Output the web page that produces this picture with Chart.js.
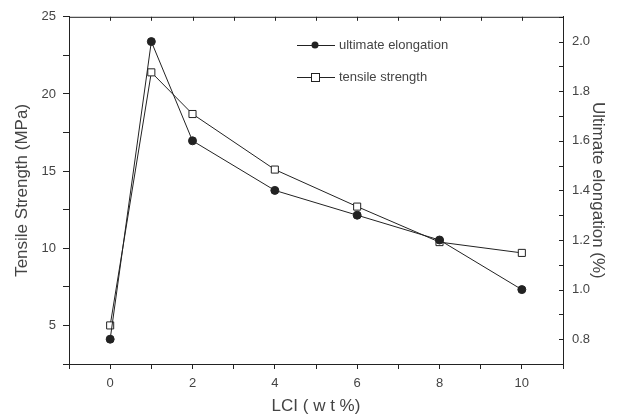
<!DOCTYPE html>
<html>
<head>
<meta charset="UTF-8">
<title>LCI</title>
<script src="https://cdn.jsdelivr.net/npm/chart.js@4.4.1/dist/chart.umd.min.js"></script>
<style>
  html, body { margin: 0; padding: 0; background: #fff; }
  #c { display: block; }
</style>
</head>
<body>
<canvas id="c" width="618" height="418"></canvas>
<script>
  // data
  const lciWt = [0, 1, 2, 4, 6, 8, 10];
  const tensileStrength = [5.0, 21.4, 18.7, 15.1, 12.7, 10.4, 9.7];   // MPa, left axis
  const ultimateElongation = [0.8, 2.0, 1.6, 1.4, 1.3, 1.2, 1.0];     // %, right axis

  const ink = "#222";
  const textCol = "#444";
  const fontFam = "'Liberation Sans', Arial, sans-serif";

  // frame top line + top ticks + legend inside plot
  const framePlugin = {
    id: "frame",
    afterDraw(chart) {
      const { ctx, chartArea: a, scales } = chart;
      ctx.save();
      ctx.strokeStyle = ink;
      ctx.lineWidth = 1;
      ctx.beginPath();
      ctx.moveTo(a.left, a.top + 0.5);
      ctx.lineTo(a.right, a.top + 0.5);
      scales.x.ticks.forEach(t => {
        const px = Math.round(scales.x.getPixelForValue(t.value)) + 0.5;
        ctx.moveTo(px, a.top);
        ctx.lineTo(px, a.top + 4);
      });
      scales.y2.ticks.forEach(t => {
        const py = Math.round(scales.y2.getPixelForValue(t.value)) + 0.5;
        ctx.moveTo(a.right, py);
        ctx.lineTo(a.right - 4, py);
      });
      ctx.stroke();

      // legend
      const items = [
        { ds: chart.data.datasets[0], y: 45 },
        { ds: chart.data.datasets[1], y: 77 }
      ];
      ctx.font = "13px " + fontFam;
      ctx.textBaseline = "middle";
      items.forEach(it => {
        ctx.strokeStyle = ink;
        ctx.beginPath();
        ctx.moveTo(297, it.y + 0.5);
        ctx.lineTo(335, it.y + 0.5);
        ctx.stroke();
        if (it.ds.pointStyle === "circle") {
          ctx.fillStyle = ink;
          ctx.beginPath();
          ctx.arc(315, it.y, 3.5, 0, Math.PI * 2);
          ctx.fill();
        } else {
          ctx.fillStyle = "#fff";
          ctx.fillRect(311, it.y - 4, 8, 8);
          ctx.strokeRect(311.5, it.y - 3.5, 8, 8);
        }
        ctx.fillStyle = textCol;
        ctx.fillText(it.ds.label, 339, it.y);
      });
      ctx.restore();
    }
  };

  new Chart(document.getElementById("c"), {
    type: "scatter",
    data: {
      datasets: [
        {
          label: "ultimate elongation",
          data: lciWt.map((x, i) => ({ x: x, y: ultimateElongation[i] })),
          yAxisID: "y2",
          showLine: true,
          borderColor: ink,
          borderWidth: 1,
          pointStyle: "circle",
          pointRadius: 4,
          pointBackgroundColor: ink,
          pointBorderColor: ink
        },
        {
          label: "tensile strength",
          data: lciWt.map((x, i) => ({ x: x, y: tensileStrength[i] })),
          yAxisID: "y",
          showLine: true,
          borderColor: ink,
          borderWidth: 1,
          pointStyle: "rect",
          pointRadius: 5,
          pointBackgroundColor: "#fff",
          pointBorderColor: ink,
          pointBorderWidth: 1
        }
      ]
    },
    options: {
      responsive: false,
      animation: false,
      layout: { padding: { top: 16, right: 0, left: 0, bottom: 0 } },
      plugins: {
        legend: { display: false },
        tooltip: { enabled: false }
      },
      scales: {
        x: {
          type: "linear",
          position: "bottom",
          min: -1,
          max: 11,
          afterFit: s => { s.height = 54; },
          border: { display: true, color: ink, width: 1 },
          grid: { drawOnChartArea: false, drawTicks: true, tickLength: 5, color: ink },
          ticks: {
            stepSize: 1,
            padding: 7,
            color: textCol,
            font: { family: fontFam, size: 13 },
            callback: v => (v >= 0 && v <= 10 && v % 2 === 0) ? String(v) : ""
          },
          title: {
            display: true,
            text: "LCI ( w t %)",
            color: textCol,
            font: { family: fontFam, size: 17 },
            padding: { top: 0, bottom: 1 }
          }
        },
        y: {
          position: "left",
          min: 2.5,
          max: 25,
          afterFit: s => { s.width = 69; },
          border: { display: true, color: ink, width: 1 },
          grid: { drawOnChartArea: false, drawTicks: true, tickLength: 6, color: ink },
          ticks: {
            stepSize: 2.5,
            padding: 7,
            color: textCol,
            font: { family: fontFam, size: 13 },
            callback: v => (v % 5 === 0) ? String(v) : ""
          },
          title: {
            display: true,
            text: "Tensile Strength (MPa)",
            color: textCol,
            font: { family: fontFam, size: 17 },
            padding: { top: 12, bottom: 0 }
          }
        },
        y2: {
          position: "right",
          min: 0.7,
          max: 2.1,
          afterFit: s => { s.width = 55; },
          border: { display: true, color: ink, width: 1 },
          grid: { drawOnChartArea: false, drawTicks: false },
          ticks: {
            stepSize: 0.1,
            padding: 9,
            color: textCol,
            font: { family: fontFam, size: 13 },
            callback: v => {
              const k = Math.round(v * 10);
              return (k % 2 === 0 && k >= 8 && k <= 20) ? (k / 10).toFixed(1) : "";
            }
          },
          title: {
            display: true,
            text: "Ultimate elongation (%)",
            color: textCol,
            font: { family: fontFam, size: 17 },
            padding: { top: 10, bottom: 0 }
          }
        }
      }
    },
    plugins: [framePlugin]
  });
</script>
</body>
</html>
